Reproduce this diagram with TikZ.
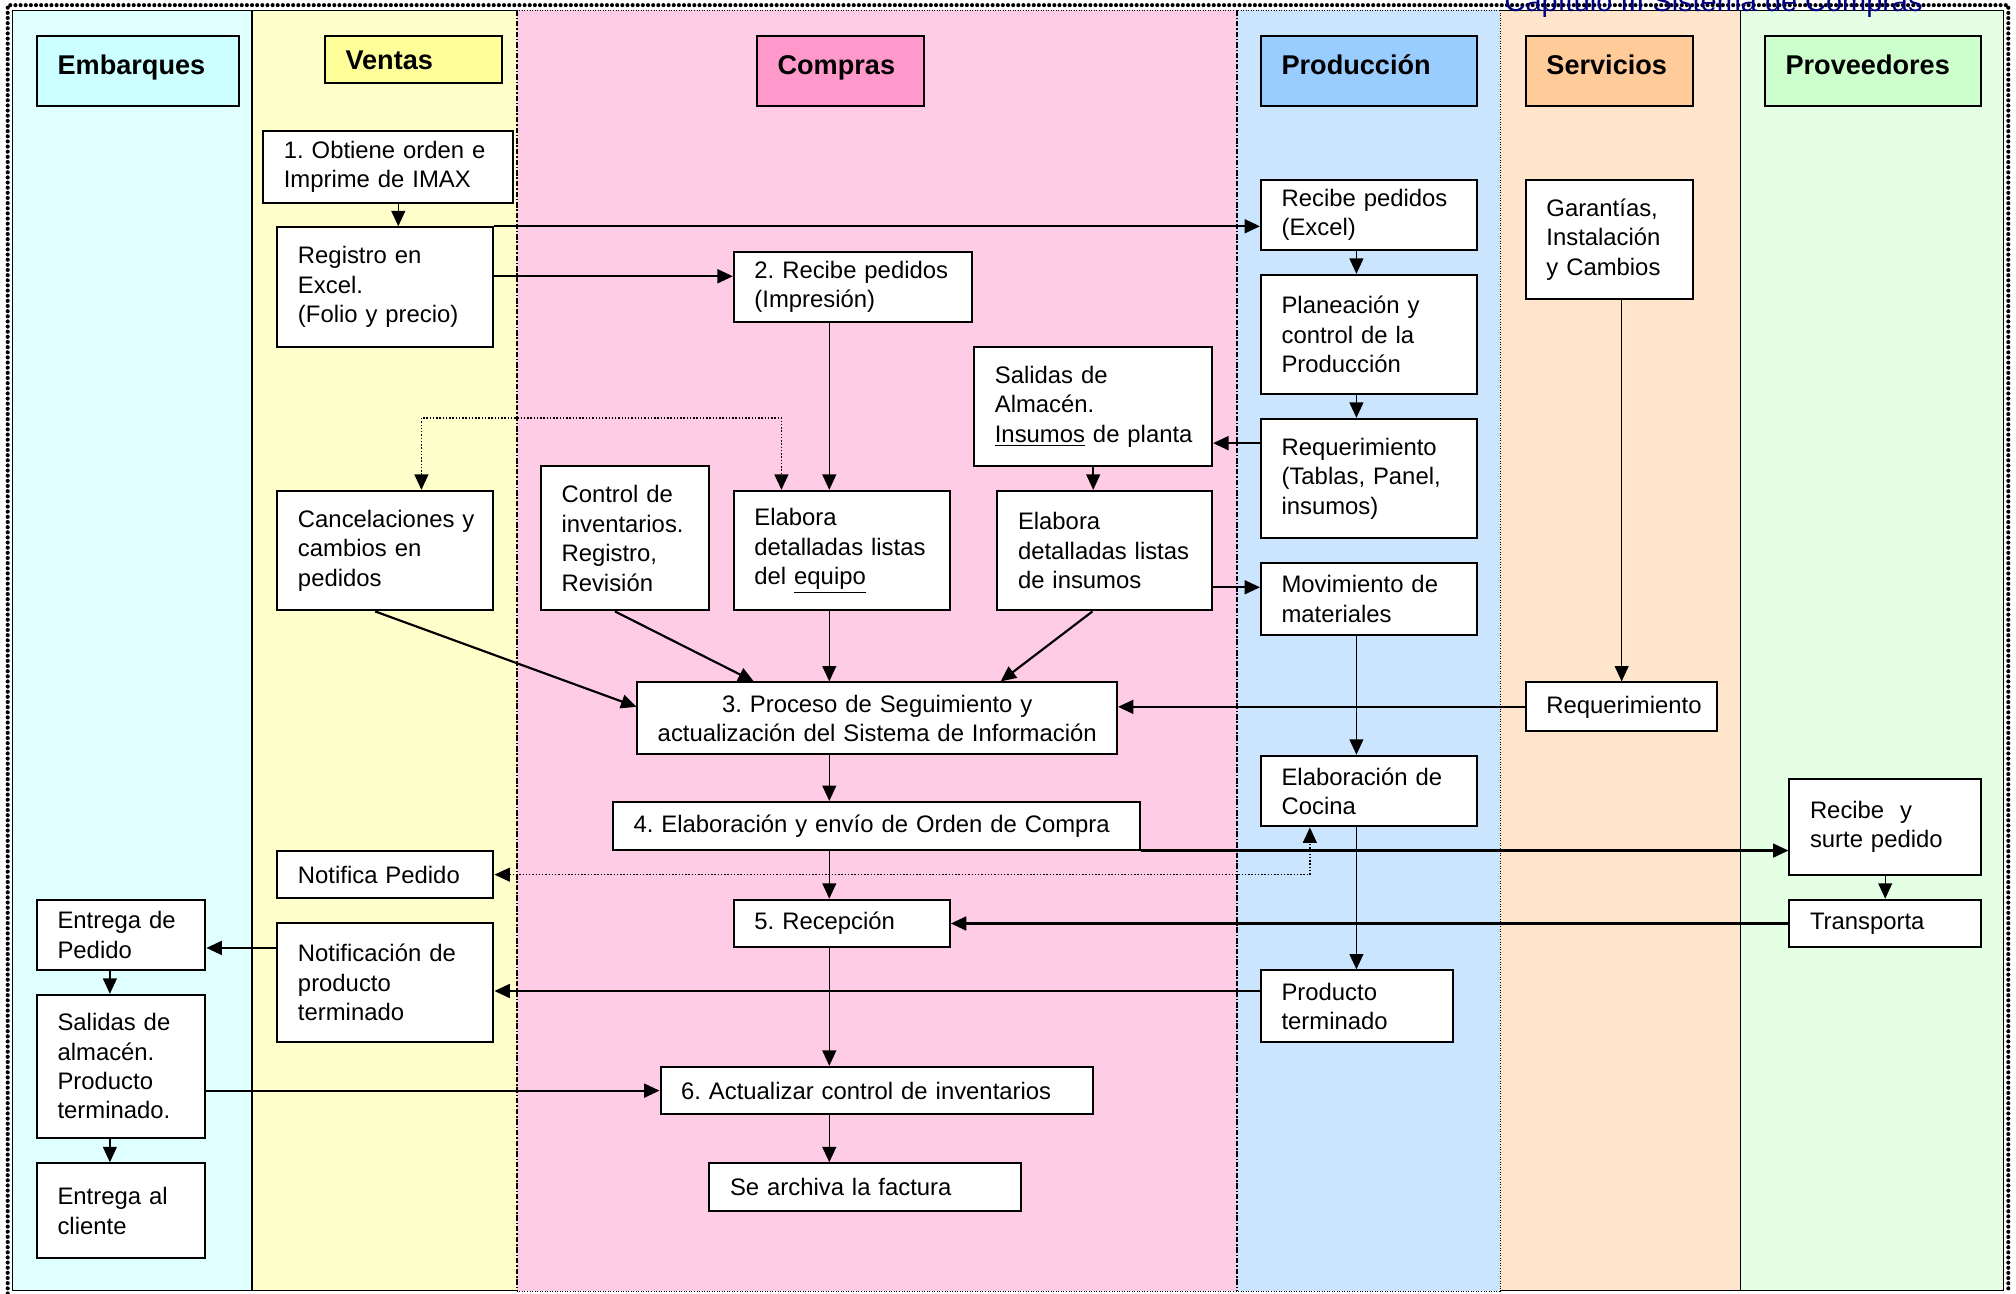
\documentclass[tikz,border=0pt]{standalone}
\usepackage{fontspec}
\setmainfont{Liberation Sans}
\usetikzlibrary{arrows.meta}

\definecolor{embarquesfondo}{RGB}{224,255,255}
\definecolor{embarquescab}{RGB}{204,255,255}
\definecolor{ventasfondo}{RGB}{255,255,204}
\definecolor{ventascab}{RGB}{255,255,153}
\definecolor{comprasfondo}{RGB}{255,204,229}
\definecolor{comprascab}{RGB}{255,153,204}
\definecolor{produccionfondo}{RGB}{204,229,255}
\definecolor{produccioncab}{RGB}{153,204,255}
\definecolor{serviciosfondo}{RGB}{255,229,204}
\definecolor{servicioscab}{RGB}{255,204,153}
\definecolor{proveedoresfondo}{RGB}{229,255,229}
\definecolor{proveedorescab}{RGB}{204,255,204}
\definecolor{titulo}{RGB}{0,0,128}

\hyphenpenalty=10000
\exhyphenpenalty=10000
\newcommand{\textocaja}{\fontsize{13.2}{16.3}\selectfont\frenchspacing}
\newcommand{\textocab}{\fontsize{15}{18}\selectfont\bfseries}

\begin{document}
\begin{tikzpicture}[x=0.25mm, y=-0.25mm, font=\textocaja,
    caja/.style={draw, line width=1.1pt, fill=white, anchor=north west,
      inner xsep=4mm, inner ysep=0pt, align=left},
    cabecera/.style={caja, font=\textocab, minimum height=13.75mm,
      text height=11pt, text depth=7.2pt},
    flecha/.style={line width=0.8pt, -{Triangle[length=3mm,width=2.7mm]}},
    flechagruesa/.style={flecha, line width=1.2pt},
    enlacepunteado/.style={line width=0.8pt, densely dotted,
      {Triangle[length=3mm,width=2.7mm]}-{Triangle[length=3mm,width=2.7mm]}}]
      \useasboundingbox (0,0) rectangle (1568,1006.4);

      %% carriles
      \fill[embarquesfondo] (10,8) rectangle (196,1004);
      \fill[ventasfondo] (196,8) rectangle (402,1004);
      \fill[comprasfondo] (402,8) rectangle (962,1004);
      \fill[produccionfondo] (962,8) rectangle (1167,1004);
      \fill[serviciosfondo] (1167,8) rectangle (1354,1004);
      \fill[proveedoresfondo] (1354,8) rectangle (1558,1004);

      \draw[line width=0.6pt] (402,8) -- (10,8) -- (10,1004) -- (402,1004);
      \draw[line width=0.6pt] (1167,8) -- (1558,8) -- (1558,1004) -- (1167,1004);
      \draw[densely dotted] (402,8) -- (1167,8) (402,1004) -- (1167,1004);
      \draw[line width=0.6pt] (196,8) -- (196,1004) (1354,8) -- (1354,1004);
      \draw[line width=0.9pt, densely dashdotted] (402,8) -- (402,1004) (962,8) -- (962,1004);
      \draw[densely dotted] (1167,8) -- (1167,1004);
      \draw[line width=0.8mm, line cap=round, dash pattern=on 0pt off 1mm]
        (6,1006) -- (6,4) -- (1562,4) -- (1562,1006);

      \node[anchor=base west, inner sep=0pt, text=titulo, font=\fontsize{16}{19}\selectfont]
        (capitulo) at (1170,9) {Capítulo III Sistema de Compras};

      %% cabeceras
      \node[cabecera, fill=embarquescab, text width=31.25mm] (embarques) at (28,27) {Embarques};
      \node[cabecera, fill=ventascab, text width=26.5mm, minimum height=9.25mm,
        text height=15pt, text depth=3.5pt] (ventas) at (252,27) {Ventas};
      \node[cabecera, fill=comprascab, text width=24.5mm] (compras) at (588,27) {Compras};
      \node[cabecera, fill=produccioncab, text width=34mm] (produccion) at (980,27) {Producción};
      \node[cabecera, fill=servicioscab, text width=24.5mm] (servicios) at (1186,27) {Servicios};
      \node[cabecera, fill=proveedorescab, text width=34mm] (proveedores) at (1372,27) {Proveedores};

      %% embarques
      \node[caja, text width=24.75mm, minimum height=13.75mm] (entrega) at (28,699) {Entrega de\\Pedido};
      \node[caja, text width=24.75mm, minimum height=27.75mm] (salidasalmacen) at (28,773)
        {Salidas de\\almacén.\\Producto\\terminado.};
      \node[caja, text width=24.75mm, minimum height=18.5mm] (entregacliente) at (28,904) {Entrega al\\cliente};

      %% ventas
      \node[caja, text width=40.5mm, minimum height=14mm] (obtiene) at (204,101) {1. Obtiene orden e\\Imprime de IMAX};
      \node[caja, text width=34mm, minimum height=23.25mm] (registro) at (215,176)
        {Registro en\\Excel.\\(Folio y precio)};
      \node[caja, text width=34mm, minimum height=23.25mm] (cancelaciones) at (215,381)
        {Cancelaciones~y\\cambios en\\pedidos};
      \node[caja, text width=34mm, minimum height=9.25mm] (notifica) at (215,661) {Notifica Pedido};
      \node[caja, text width=34mm, minimum height=23.25mm] (notifproducto) at (215,717)
        {Notificación de\\producto\\terminado};

      %% compras
      \node[caja, text width=38.25mm, minimum height=13.75mm] (recibe) at (570,195) {2.~Recibe~pedidos\\(Impresión)};
      \node[caja, text width=38.25mm, minimum height=23.25mm] (salidas) at (757,269)
        {Salidas de\\Almacén.\\\underline{Insumos}~de~planta};
      \node[caja, text width=24.75mm, minimum height=28mm] (control) at (420,362)
        {Control de\\inventarios.\\Registro,\\Revisión};
      \node[caja, text width=34mm, minimum height=23.25mm] (elaboraequipo) at (570,381)
        {Elabora\\detalladas~listas\\del \underline{equipo}};
      \node[caja, text width=33.75mm, minimum height=23.25mm] (elaborainsumos) at (775,381)
        {Elabora\\detalladas~listas\\de insumos};
      \node[caja, align=center, inner xsep=2mm, text width=89.25mm, minimum height=14mm] (proceso) at (495,530)
        {3. Proceso de Seguimiento y\\actualización~del~Sistema~de~Información};
      \node[caja, text width=94.5mm, minimum height=9.25mm] (orden) at (476,623)
        {4. Elaboración y envío de Orden de Compra};
      \node[caja, text width=34mm, minimum height=9.25mm] (recepcion) at (570,699) {5. Recepción};
      \node[caja, text width=76mm, minimum height=9.25mm] (actualizar) at (513,829)
        {6. Actualizar control de inventarios};
      \node[caja, text width=52.5mm, minimum height=9.25mm] (archiva) at (551,904) {Se archiva la factura};

      %% produccion
      \node[caja, text width=34mm, minimum height=13.75mm] (recibeprod) at (980,139) {Recibe pedidos\\(Excel)};
      \node[caja, text width=34mm, minimum height=23.25mm] (planeacion) at (980,213)
        {Planeación y\\control de la\\Producción};
      \node[caja, text width=34mm, minimum height=23.25mm] (requerimiento) at (980,325)
        {Requerimiento\\(Tablas, Panel,\\insumos)};
      \node[caja, text width=34mm, minimum height=14mm] (movimiento) at (980,437) {Movimiento de\\materiales};
      \node[caja, text width=34mm, minimum height=13.75mm] (cocina) at (980,587) {Elaboración de\\Cocina};
      \node[caja, text width=29.25mm, minimum height=14mm] (productoprod) at (980,754) {Producto\\terminado};

      %% servicios y proveedores
      \node[caja, text width=24.5mm, minimum height=23.25mm] (garantias) at (1186,139)
        {Garantías,\\Instalación\\y Cambios};
      \node[caja, text width=29.25mm, minimum height=9.5mm] (reqservicios) at (1186,530) {Requerimiento};
      \node[caja, text width=29.25mm, minimum height=18.75mm] (recibeprov) at (1391,605) {Recibe\ \ y\\surte pedido};
      \node[caja, text width=29.25mm, minimum height=9.25mm] (transporta) at (1391,699) {Transporta};

      %% conexiones
      \coordinate (eje) at (645,0);
      \coordinate (ejeprod) at (1055,0);

      \draw[flecha] ([xshift=2mm]obtiene.south) -- ([xshift=2mm]obtiene.south |- registro.north);
      \draw[flechagruesa] (registro.north east) -- (registro.north east -| recibeprod.west);
      \draw[flechagruesa] ([yshift=2.1mm]registro.east) -- ([yshift=2.1mm]registro.east -| recibe.west);
      \draw[flecha] (recibe.south -| eje) -- (elaboraequipo.north -| eje);
      \draw[enlacepunteado] ([xshift=7mm]cancelaciones.north) -- ++(0,-56)
        -| ([xshift=-11.75mm]elaboraequipo.north);
      \draw[flechagruesa] ([xshift=-2mm]cancelaciones.south) -- ([yshift=2.25mm]proceso.west);
      \draw[flechagruesa] ([xshift=-2mm]control.south) -- ([xshift=-24mm]proceso.north);
      \draw[flecha] (elaboraequipo.south -| eje) -- (proceso.north -| eje);
      \draw[flechagruesa] ([xshift=-2.4mm]elaborainsumos.south) -- ([xshift=24mm]proceso.north);
      \draw[flecha] (salidas.south) -- (salidas.south |- elaborainsumos.north);
      \draw[flechagruesa] ([yshift=6.9mm]requerimiento.west) -- ([yshift=6.9mm]requerimiento.west -| salidas.east);
      \draw[flechagruesa] ([yshift=2.25mm]movimiento.west -| elaborainsumos.east) -- ([yshift=2.25mm]movimiento.west);
      \draw[flecha] (recibeprod.south -| ejeprod) -- (planeacion.north -| ejeprod);
      \draw[flecha] (planeacion.south -| ejeprod) -- (requerimiento.north -| ejeprod);
      \draw[flecha] (movimiento.south -| ejeprod) -- (cocina.north -| ejeprod);
      \draw[flecha] (cocina.south -| ejeprod) -- (productoprod.north -| ejeprod);
      \draw[flecha] (garantias.south -| reqservicios.north) -- (reqservicios.north);
      \draw[flechagruesa] (reqservicios.west) -- (reqservicios.west -| proceso.east);
      \draw[flecha] (proceso.south -| eje) -- (orden.north -| eje);
      \draw[flechagruesa] (orden.south east) -- (orden.south east -| recibeprov.west);
      \draw[enlacepunteado] (notifica.east) -| ([xshift=-11.5mm]cocina.south);
      \draw[flecha] (orden.south -| eje) -- (recepcion.north -| eje);
      \draw[flechagruesa] (transporta.west) -- (recepcion.east);
      \draw[flecha] (recibeprov.south) -- (transporta.north);
      \draw[flechagruesa] ([yshift=3mm]productoprod.west) -- ([yshift=3mm]productoprod.west -| notifproducto.east);
      \draw[flechagruesa] ([yshift=-2.5mm]entrega.east -| notifproducto.west) -- ([yshift=-2.5mm]entrega.east);
      \draw[flecha] (recepcion.south -| eje) -- (actualizar.north -| eje);
      \draw[flecha] (actualizar.south -| eje) -- (archiva.north -| eje);
      \draw[flecha] ([xshift=-2.2mm]entrega.south) -- ([xshift=-2.2mm]entrega.south |- salidasalmacen.north);
      \draw[flecha] ([xshift=-2.2mm]salidasalmacen.south) -- ([xshift=-2.2mm]salidasalmacen.south |- entregacliente.north);
      \draw[flechagruesa] (actualizar.west -| salidasalmacen.east) -- (actualizar.west);

    \end{tikzpicture}
\end{document}
